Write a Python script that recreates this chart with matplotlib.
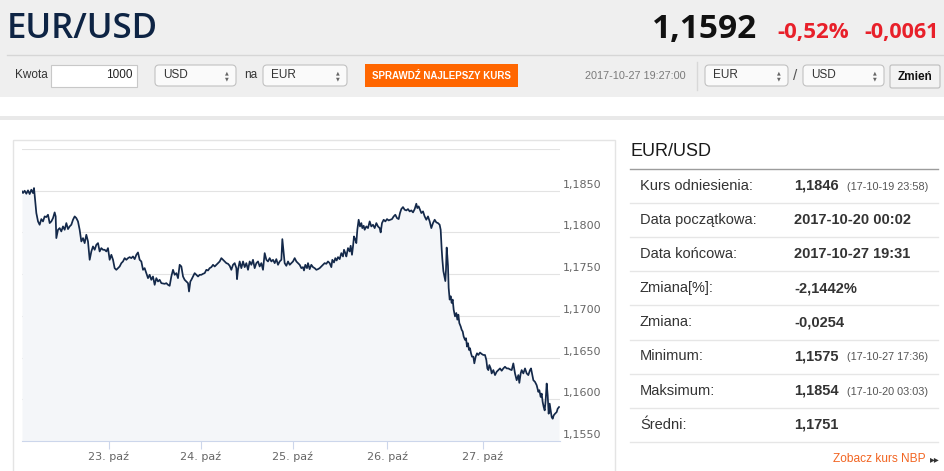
import numpy as np
import matplotlib.pyplot as plt
from matplotlib.patches import Rectangle, FancyBboxPatch
from matplotlib.transforms import ScaledTranslation

# EUR/USD, 2017-10-20 .. 2017-10-27.
# x is the position on the gap-free (ordinal) time axis, in hours from Fri 20 Oct 00:00
hrs_20 = [1.67, 1.93, 2.35, 2.78, 3.21, 3.64, 4.06, 4.49, 4.75, 5.35, 5.78, 6.20, 6.63, 7.06, 7.49,
          7.91, 8.34, 8.77, 9.20, 9.63, 10.05, 10.31, 10.48, 10.91, 11.34, 11.76, 12.19, 12.62, 13.05,
          13.48, 13.90, 14.33, 14.76, 15.19, 15.61, 16.04, 16.47, 16.90, 17.33, 17.75, 18.18, 18.61,
          19.04, 19.47, 19.89, 20.32, 20.75, 21.18, 21.60, 22.03, 22.46, 22.89, 23.32, 23.74]
rate_20 = [1.18492, 1.18472, 1.18500, 1.18464, 1.18504, 1.18460, 1.18512, 1.18472, 1.18532, 1.18232,
           1.18132, 1.18092, 1.18160, 1.18132, 1.18192, 1.18184, 1.18212, 1.18112, 1.18132, 1.18172,
           1.18240, 1.18192, 1.17932, 1.18032, 1.18052, 1.18012, 1.18072, 1.18032, 1.18112, 1.18040,
           1.18072, 1.18092, 1.18152, 1.18192, 1.18172, 1.18132, 1.18032, 1.17892, 1.17932, 1.17872,
           1.17972, 1.17892, 1.17672, 1.17772, 1.17832, 1.17792, 1.17852, 1.17872, 1.17772, 1.17812,
           1.17792, 1.17792, 1.17772, 1.17812]

hrs_23 = [24.17, 24.60, 25.03, 25.45, 25.88, 26.31, 26.74, 27.17, 27.59, 28.02, 28.45, 28.88, 29.30,
          29.73, 30.16, 30.59, 31.02, 31.44, 31.87, 32.30, 32.73, 33.15, 33.58, 34.01, 34.44, 34.86,
          35.29, 35.72, 36.15, 36.58, 37.00, 37.43, 38.29, 38.72, 39.15, 39.57, 40.00, 40.43, 40.86,
          41.29, 41.71, 42.14, 42.57, 43.00, 43.42, 43.85, 44.28, 44.54, 44.88, 45.14, 45.56, 45.99,
          46.42, 46.85, 47.28]
rate_23 = [1.17672, 1.17732, 1.17672, 1.17572, 1.17552, 1.17572, 1.17592, 1.17632, 1.17652, 1.17692,
           1.17672, 1.17692, 1.17704, 1.17692, 1.17712, 1.17680, 1.17732, 1.17760, 1.17672, 1.17652,
           1.17552, 1.17572, 1.17512, 1.17452, 1.17492, 1.17432, 1.17472, 1.17372, 1.17452, 1.17412,
           1.17432, 1.17392, 1.17384, 1.17392, 1.17372, 1.17360, 1.17472, 1.17552, 1.17492, 1.17512,
           1.17452, 1.17612, 1.17592, 1.17472, 1.17432, 1.17412, 1.17392, 1.17292, 1.17412, 1.17432,
           1.17472, 1.17512, 1.17492, 1.17472, 1.17492]

hrs_24 = [47.70, 48.13, 48.56, 48.99, 49.41, 49.84, 50.27, 50.70, 51.13, 51.55, 51.98, 52.41, 52.84,
          53.26, 53.69, 54.12, 54.55, 54.98, 55.40, 55.83, 56.26, 56.69, 56.86, 57.11, 57.54, 57.97,
          58.40, 58.83, 59.25, 59.68, 60.11, 60.54, 60.96, 61.39, 61.82, 62.25, 62.68, 63.10, 63.53,
          63.96, 64.39, 64.81, 65.24, 65.67, 66.10, 66.53, 66.95, 67.38, 67.81, 68.24, 68.49, 68.84,
          69.09, 69.52, 69.95, 70.38, 70.80]
rate_24 = [1.17492, 1.17504, 1.17512, 1.17552, 1.17544, 1.17572, 1.17584, 1.17612, 1.17592, 1.17612,
           1.17632, 1.17652, 1.17692, 1.17672, 1.17652, 1.17632, 1.17624, 1.17600, 1.17552, 1.17612,
           1.17632, 1.17572, 1.17440, 1.17552, 1.17652, 1.17572, 1.17652, 1.17584, 1.17632, 1.17552,
           1.17652, 1.17612, 1.17672, 1.17572, 1.17632, 1.17652, 1.17592, 1.17632, 1.17552, 1.17752,
           1.17672, 1.17652, 1.17692, 1.17652, 1.17672, 1.17632, 1.17680, 1.17612, 1.17652, 1.17672,
           1.17920, 1.17752, 1.17632, 1.17600, 1.17652, 1.17612, 1.17632]

hrs_25 = [71.23, 71.66, 72.09, 72.52, 72.94, 73.37, 73.79, 74.05, 74.39, 74.82, 75.08, 75.50, 75.93,
          76.36, 76.79, 77.22, 77.64, 78.07, 78.50, 78.93, 79.35, 79.78, 80.21, 80.64, 81.07, 81.32,
          81.75, 82.09, 82.43, 82.78, 83.21, 83.63, 84.06, 84.32, 84.66, 84.92, 85.34, 85.77, 86.03,
          86.37, 86.63, 86.88, 87.23, 87.48, 87.74, 88.08, 88.42, 88.77, 89.02, 89.37, 89.62, 90.05,
          90.48, 90.91, 91.33, 91.76, 92.19, 92.62, 93.04, 93.47, 93.73, 94.07, 94.50, 94.93]
rate_25 = [1.17652, 1.17692, 1.17652, 1.17632, 1.17612, 1.17572, 1.17584, 1.17544, 1.17612, 1.17572,
           1.17632, 1.17560, 1.17612, 1.17584, 1.17572, 1.17552, 1.17560, 1.17572, 1.17592, 1.17612,
           1.17632, 1.17624, 1.17652, 1.17632, 1.17584, 1.17672, 1.17640, 1.17692, 1.17664, 1.17704,
           1.17680, 1.17752, 1.17712, 1.17792, 1.17752, 1.17712, 1.17812, 1.17772, 1.17840, 1.17732,
           1.17832, 1.17952, 1.17912, 1.17872, 1.18032, 1.18152, 1.18072, 1.18112, 1.18052, 1.18080,
           1.18032, 1.18072, 1.18052, 1.18132, 1.18072, 1.18092, 1.18052, 1.18112, 1.18072, 1.18052,
           1.18000, 1.18112, 1.18152, 1.18132]

hrs_26 = [95.36, 95.78, 96.21, 96.64, 97.07, 97.49, 97.92, 98.35, 98.69, 99.03, 99.46, 99.89, 100.32,
          100.74, 101.17, 101.60, 102.03, 102.46, 102.88, 103.14, 103.48, 103.83, 104.17, 104.60,
          105.02, 105.45, 105.88, 106.31, 106.73, 107.16, 107.59, 108.02, 108.45, 108.87, 109.13,
          109.39, 109.56, 109.82, 110.07, 110.33, 110.50, 110.67, 110.84, 111.01, 111.18, 111.44,
          111.70, 111.95, 112.21, 112.47, 112.81, 113.15, 113.41, 113.67, 113.92, 114.27, 114.52,
          114.78, 115.03, 115.38, 115.63, 115.89, 116.15, 116.40, 116.66, 116.92, 117.17, 117.52,
          117.77, 118.12, 118.46, 118.80, 119.23, 119.66]
rate_26 = [1.18160, 1.18144, 1.18152, 1.18160, 1.18192, 1.18212, 1.18172, 1.18160, 1.18232, 1.18280,
           1.18304, 1.18272, 1.18264, 1.18280, 1.18252, 1.18264, 1.18240, 1.18280, 1.18344, 1.18292,
           1.18312, 1.18272, 1.18232, 1.18252, 1.18192, 1.18152, 1.18192, 1.18132, 1.18052, 1.18112,
           1.18152, 1.18120, 1.18112, 1.18092, 1.18032, 1.17799, 1.17678, 1.17537, 1.17477, 1.17417,
           1.17557, 1.17819, 1.17718, 1.17598, 1.17336, 1.17195, 1.17235, 1.17155, 1.17195, 1.17074,
           1.16994, 1.17034, 1.16954, 1.17014, 1.16913, 1.16873, 1.16833, 1.16813, 1.16753, 1.16712,
           1.16732, 1.16632, 1.16672, 1.16592, 1.16612, 1.16551, 1.16511, 1.16511, 1.16431, 1.16511,
           1.16551, 1.16531, 1.16560, 1.16543]

hrs_27 = [120.08, 120.51, 120.85, 121.11, 121.37, 121.62, 121.97, 122.22, 122.65, 123.08, 123.51,
          123.93, 124.36, 124.79, 125.22, 125.64, 126.07, 126.50, 126.93, 127.36, 127.78, 128.21,
          128.64, 129.07, 129.32, 129.67, 129.92, 130.35, 130.78, 131.21, 131.63, 132.06, 132.32,
          132.66, 132.92, 133.34, 133.77, 134.20, 134.46, 134.80, 135.06, 135.31, 135.57, 135.83,
          136.08, 136.34, 136.60, 136.85, 137.11, 137.37, 137.62, 137.88, 138.14, 138.48, 138.91,
          139.16, 139.51]
rate_27 = [1.16531, 1.16531, 1.16471, 1.16370, 1.16350, 1.16410, 1.16370, 1.16310, 1.16350, 1.16290,
           1.16330, 1.16350, 1.16370, 1.16342, 1.16370, 1.16390, 1.16370, 1.16370, 1.16358, 1.16350,
           1.16430, 1.16310, 1.16229, 1.16290, 1.16197, 1.16310, 1.16350, 1.16310, 1.16370, 1.16310,
           1.16290, 1.16350, 1.16370, 1.16290, 1.16229, 1.16209, 1.16169, 1.16089, 1.16109, 1.16028,
           1.16068, 1.15968, 1.15908, 1.15867, 1.15988, 1.16189, 1.16048, 1.15827, 1.15948, 1.15867,
           1.15787, 1.15767, 1.15807, 1.15827, 1.15847, 1.15887, 1.15907]

# midnights on the ordinal axis
day_ticks = [24.0, 47.6, 71.2, 95.4, 120.0]
day_labels = ['23. paź', '24. paź', '25. paź', '26. paź', '27. paź']
y_ticks = [1.155, 1.160, 1.165, 1.170, 1.175, 1.180, 1.185, 1.190]

# summary panel
stat_labels = ['Kurs odniesienia:', 'Data początkowa:', 'Data końcowa:', 'Zmiana[%]:',
               'Zmiana:', 'Minimum:', 'Maksimum:', 'Średni:']
stat_values = ['1,1846', '2017-10-20 00:02', '2017-10-27 19:31', '-2,1442%',
               '-0,0254', '1,1575', '1,1854', '1,1751']
stat_notes = ['(17-10-19 23:58)', '', '', '', '', '(17-10-27 17:36)', '(17-10-20 03:03)', '']

SANS = ['Liberation Sans', 'DejaVu Sans']
HEAD = ['Open Sans', 'Liberation Sans', 'DejaVu Sans']

W, H = 945, 471
fig = plt.figure(figsize=(W / 100, H / 100), dpi=100)
fig.patch.set_facecolor('white')

# page layer in pixel coordinates
bg = fig.add_axes([0, 0, 1, 1])
bg.set_xlim(0, W)
bg.set_ylim(H, 0)
bg.axis('off')

# header strip
bg.add_patch(Rectangle((0, 0), W, 97, color='#efefef', lw=0))
bg.plot([7, W], [54.5, 54.5], color='#d6d6d6', lw=1)
bg.add_patch(Rectangle((0, 116), W, 4, color='#e9e9e9', lw=0))

bg.text(7, 38, 'EUR/USD', family=HEAD, fontsize=25, weight='semibold', color='#0e2444',
        va='baseline')
bg.text(757, 38.5, '1,1592', family=HEAD, fontsize=24, weight='bold', color='#111111',
        ha='right', va='baseline')
bg.text(849, 38, '-0,52%', family=HEAD, fontsize=16, weight='bold', color='#e8202a',
        ha='right', va='baseline')
bg.text(939, 38, '-0,0061', family=HEAD, fontsize=15.5, weight='bold', color='#e8202a',
        ha='right', va='baseline')


def select_box(x0, x1, label):
    bg.add_patch(FancyBboxPatch((x0, 65), x1 - x0, 21, boxstyle='round,pad=0,rounding_size=4',
                                fc='#fafafa', ec='#c2c2c2', lw=0.8))
    bg.text(x0 + 8, 75.5, label, family=SANS, fontsize=8.5, color='#333333', va='center')
    bg.text(x1 - 9, 72.6, '▲', family=['DejaVu Sans'], fontsize=3.5, color='#666666',
            ha='center', va='center')
    bg.text(x1 - 9, 78.6, '▼', family=['DejaVu Sans'], fontsize=3.5, color='#666666',
            ha='center', va='center')


bg.text(15, 75.5, 'Kwota', family=SANS, fontsize=8.5, color='#333333', va='center')
bg.add_patch(Rectangle((51, 64.5), 86, 22, fc='white', ec='#c8c8c8', lw=0.8))
bg.text(133, 75.5, '1000', family=SANS, fontsize=8.5, color='#222222', ha='right', va='center')
select_box(155, 236, 'USD')
bg.text(244, 75.5, 'na', family=SANS, fontsize=8.5, color='#333333', va='center')
select_box(263, 347, 'EUR')
bg.add_patch(Rectangle((365, 64), 153, 23, color='#ff6600', lw=0))
bg.text(441.5, 76, 'SPRAWDŹ NAJLEPSZY KURS', family=SANS, fontsize=7, weight='bold',
        color='white', ha='center', va='center')
bg.text(585, 76, '2017-10-27 19:27:00', family=SANS, fontsize=7.8, color='#7a7a7a', va='center')
bg.plot([696.5, 696.5], [62, 90], color='#d8d8d8', lw=1)
select_box(705, 788, 'EUR')
bg.text(795, 76, '/', family=SANS, fontsize=11, color='#555555', ha='center', va='center')
select_box(803, 884, 'USD')
bg.add_patch(FancyBboxPatch((890, 65), 50, 23, boxstyle='round,pad=0,rounding_size=2',
                            fc='#f3f3f3', ec='#bdbdbd', lw=0.8))
bg.text(915, 77, 'Zmień', family=SANS, fontsize=8.5, weight='bold', color='#111111',
        ha='center', va='center')

# chart frame
bg.add_patch(Rectangle((12.5, 139.5), 602.5, 360, fill=False, ec='#e4e4e4', lw=1))

# summary panel
bg.text(630, 152, 'EUR/USD', family=SANS, fontsize=13, color='#1a1a1a', va='center')
bg.plot([630, 938], [168.5, 168.5], color='#9c9c9c', lw=1)
row_h = 34.2
for i, (lab, val, note) in enumerate(zip(stat_labels, stat_values, stat_notes)):
    yc = 185.5 + i * row_h
    bg.text(640, yc, lab, family=SANS, fontsize=10.5, color='#333333', va='center')
    bg.text(794, yc, val, family=SANS, fontsize=10.5, weight='bold', color='#333333', va='center')
    if note:
        bg.text(847, yc + 1, note, family=SANS, fontsize=7.8, color='#555555', va='center')
    bg.plot([630, 938], [yc + 17.3, yc + 17.3], color='#e6e6e6', lw=1)
bg.text(833, 459, 'Zobacz kurs NBP', family=SANS, fontsize=8.6, color='#f26522', va='center')
bg.text(929.5, 459, '▸▸', family=['DejaVu Sans'], fontsize=7, color='#333333', va='center')

# price chart
hours = np.concatenate([hrs_20, hrs_23, hrs_24, hrs_25, hrs_26, hrs_27])
rate = np.concatenate([rate_20, rate_23, rate_24, rate_25, rate_26, rate_27])

ax = fig.add_axes([22 / W, (H - 441) / H, 538 / W, 292 / H])
ax.set_facecolor('white')
ax.fill_between(hours, rate, 1.155, color='#f4f6f9', lw=0, zorder=1)
ax.plot(hours, rate, color='#14294a', lw=1.25, zorder=3)
ax.set_xlim(1.67, 139.76)
ax.set_ylim(1.155, 1.190)

ax.set_yticks(y_ticks)
ax.set_yticklabels([])
ax.tick_params(axis='y', length=0)
ax.grid(axis='y', color='#e3e3e3', lw=0.8, zorder=0)
ax.set_axisbelow(True)

# value labels sit just above their gridline, right of the plot
lab_off = ScaledTranslation(3 / 100, 6 / 100, fig.dpi_scale_trans)
for v in y_ticks[:-1]:
    ax.text(1.0, v, f'{v:.4f}'.replace('.', ','), transform=ax.get_yaxis_transform() + lab_off,
            fontsize=8, color='#666666', ha='left', va='center', family=['DejaVu Sans'])

ax.set_xticks(day_ticks)
ax.set_xticklabels(day_labels, family=['DejaVu Sans'])
ax.tick_params(axis='x', length=5.5, width=0.8, color='#ccd6eb', labelsize=8,
               labelcolor='#666666', pad=2)
for side in ['top', 'left', 'right']:
    ax.spines[side].set_visible(False)
ax.spines['bottom'].set_color('#ccd6eb')
ax.spines['bottom'].set_linewidth(0.8)

fig.savefig('out.png', dpi=100)
